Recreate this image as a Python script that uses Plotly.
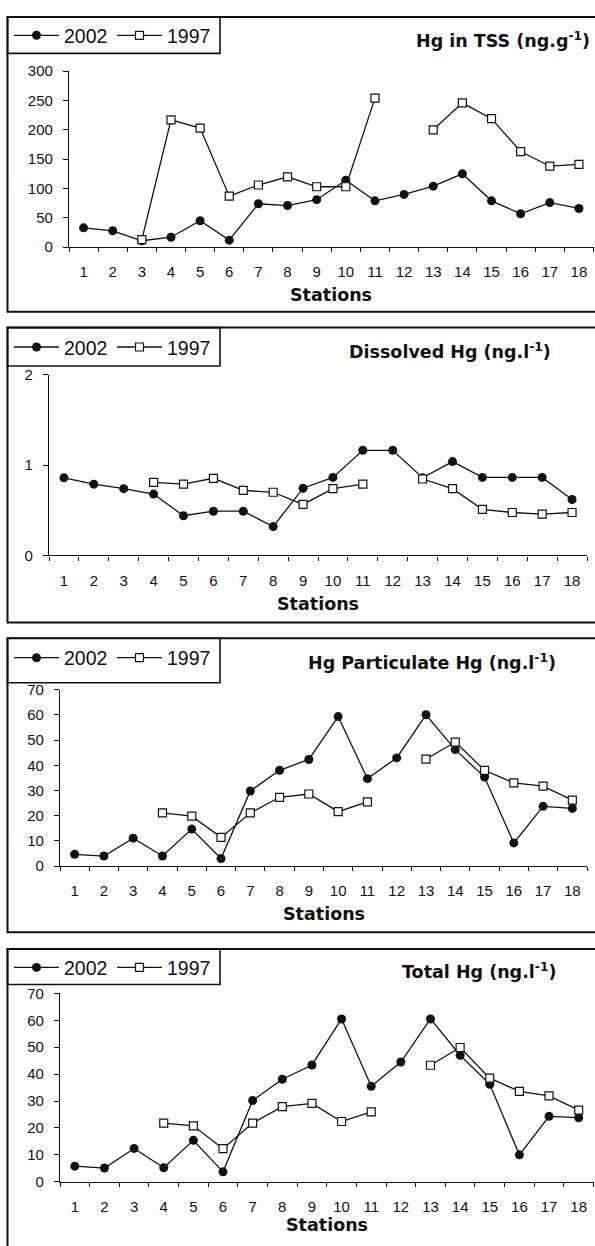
import plotly.graph_objects as go

W, H = 595, 1246

stations = [str(i) for i in range(1, 19)]

tss_2002 = [33, 28, 11, 17, 45, 12, 74, 71, 81, 114, 79, 90, 104, 125, 79, 57, 76, 66]
tss_1997 = [None, None, 13, 217, 203, 87, 106, 120, 103, 103, 254, None, 200, 246, 219, 163, 138, 141]

dis_2002 = [0.86, 0.79, 0.74, 0.68, 0.44, 0.49, 0.49, 0.32, 0.745, 0.865, 1.165, 1.165, 0.86, 1.04, 0.865, 0.865, 0.865, 0.62]
dis_1997 = [None, None, None, 0.81, 0.79, 0.855, 0.72, 0.70, 0.565, 0.74, 0.79, None, 0.847, 0.74, 0.51, 0.476, 0.458, 0.476]

part_2002 = [4.7, 4.0, 11.1, 4.0, 14.7, 3.0, 29.8, 38.0, 42.3, 59.3, 34.7, 42.9, 60.0, 46.2, 35.3, 9.2, 23.7, 22.9]
part_1997 = [None, None, None, 21.1, 19.8, 11.4, 21.1, 27.3, 28.6, 21.6, 25.5, None, 42.4, 49.2, 38.0, 33.0, 31.7, 26.2]

tot_2002 = [5.8, 5.1, 12.4, 5.2, 15.4, 3.7, 30.2, 38.1, 43.4, 60.5, 35.5, 44.5, 60.5, 47.0, 36.2, 10.0, 24.3, 23.8]
tot_1997 = [None, None, None, 21.8, 20.8, 12.3, 21.8, 27.9, 29.1, 22.4, 26.0, None, 43.3, 49.9, 38.5, 33.6, 31.9, 26.6]

titles = ["Hg in TSS (ng.g<sup>-1</sup>)", "Dissolved Hg (ng.l<sup>-1</sup>)",
          "Hg Particulate Hg (ng.l<sup>-1</sup>)", "Total Hg (ng.l<sup>-1</sup>)"]

FONT = "Liberation Sans, Arial, sans-serif"
BOLD_FONT = "DejaVu Sans, Liberation Sans, sans-serif"  # wider bold, closer to the scan
INK = "#111111"

# geometry of each panel in page pixels
panels = [
    dict(y2002=tss_2002, y1997=tss_1997, yr=[0, 300], dt=50,
         box=(8, 307), leg=(8, 45), legy=27, title_x=592, title_y=31,
         px=(69, 593.5), py=(63, 241.5), laby=290),
    dict(y2002=dis_2002, y1997=dis_1997, yr=[0, 2], dt=1,
         box=(323, 622), leg=(323, 362), legy=343, title_x=553, title_y=347,
         px=(49, 587), py=(371, 554), laby=603),
    dict(y2002=part_2002, y1997=part_1997, yr=[0, 70], dt=10,
         box=(638, 936), leg=(638, 683), legy=658, title_x=558, title_y=662,
         px=(60, 587), py=(690, 869), laby=918),
    dict(y2002=tot_2002, y1997=tot_1997, yr=[0, 70], dt=10,
         box=(953, 1260), leg=(953, 989), legy=972, title_x=558, title_y=975,
         px=(60, 593.5), py=(998, 1189), laby=1233),
]


def fx(p):
    return p / W


def fy(p):
    return 1 - p / H


fig = go.Figure()
shapes, annotations = [], []
layout = {}

for i, p in enumerate(panels):
    n = "" if i == 0 else str(i + 1)
    leg = "legend" + n
    fig.add_trace(go.Scatter(
        x=stations, y=p["y2002"], name="2002", mode="lines+markers",
        line=dict(color=INK, width=1.3),
        marker=dict(symbol="circle", size=9, color=INK),
        xaxis="x" + n, yaxis="y" + n, legend=leg, showlegend=True))
    fig.add_trace(go.Scatter(
        x=stations, y=p["y1997"], name="1997", mode="lines+markers",
        line=dict(color=INK, width=1.3),
        marker=dict(symbol="square", size=8, color="white",
                    line=dict(color=INK, width=1.2)),
        xaxis="x" + n, yaxis="y" + n, legend=leg, showlegend=True))

    layout["xaxis" + n] = dict(
        domain=[fx(p["px"][0]), fx(p["px"][1])], anchor="y" + n,
        type="category", categoryarray=stations, range=[-0.5, 17.5],
        tickson="boundaries", ticks="outside", ticklen=4, tickwidth=1.2,
        tickcolor=INK, showline=True, linecolor=INK, linewidth=1.3,
        showgrid=False, zeroline=False, ticklabelstandoff=11,
        tickfont=dict(family=FONT, size=15, color=INK))
    layout["yaxis" + n] = dict(
        domain=[fy(p["py"][1]), fy(p["py"][0])], anchor="x" + n,
        range=p["yr"], dtick=p["dt"], ticks="outside", ticklen=5, tickwidth=1.2,
        tickcolor=INK, showline=True, linecolor=INK, linewidth=1.3,
        showgrid=False, zeroline=False, ticklabelstandoff=7,
        tickfont=dict(family=FONT, size=15, color=INK))

    layout[leg] = dict(
        orientation="h", x=fx(9), xanchor="left", y=fy(p["legy"]), yanchor="middle",
        bgcolor="rgba(0,0,0,0)", borderwidth=0, itemwidth=45,
        entrywidth=43, entrywidthmode="pixels",
        font=dict(family=FONT, size=19.5, color=INK), itemclick=False)

    # panel frame and legend frame
    shapes.append(dict(type="rect", xref="paper", yref="paper",
                       x0=fx(7.5), x1=fx(610), y0=fy(p["box"][1]), y1=fy(p["box"][0]),
                       line=dict(color=INK, width=2)))
    shapes.append(dict(type="rect", xref="paper", yref="paper",
                       x0=fx(7.5), x1=fx(220), y0=fy(p["leg"][1]), y1=fy(p["leg"][0]),
                       line=dict(color=INK, width=1.6)))

    annotations.append(dict(
        text="<b>" + titles[i] + "</b>", xref="paper", yref="paper",
        x=fx(p["title_x"]), y=fy(p["title_y"]), xanchor="right", yanchor="middle",
        showarrow=False, font=dict(family=BOLD_FONT, size=17.5, color=INK)))
    annotations.append(dict(
        text="<b>Stations</b>", xref="paper", yref="paper",
        x=fx((p["px"][0] + p["px"][1]) / 2), y=fy(p["laby"]),
        xanchor="center", yanchor="middle",
        showarrow=False, font=dict(family=BOLD_FONT, size=17.5, color=INK)))

fig.update_layout(
    width=W, height=H, margin=dict(l=0, r=0, t=0, b=0),
    paper_bgcolor="white", plot_bgcolor="white",
    font=dict(family=FONT, color=INK),
    shapes=shapes, annotations=annotations, **layout)

# the page's default body margin would shift the figure
fig.write_html("out.html", config={"displayModeBar": False},
               post_script="document.body.style.margin='0';document.body.style.overflow='hidden';")
